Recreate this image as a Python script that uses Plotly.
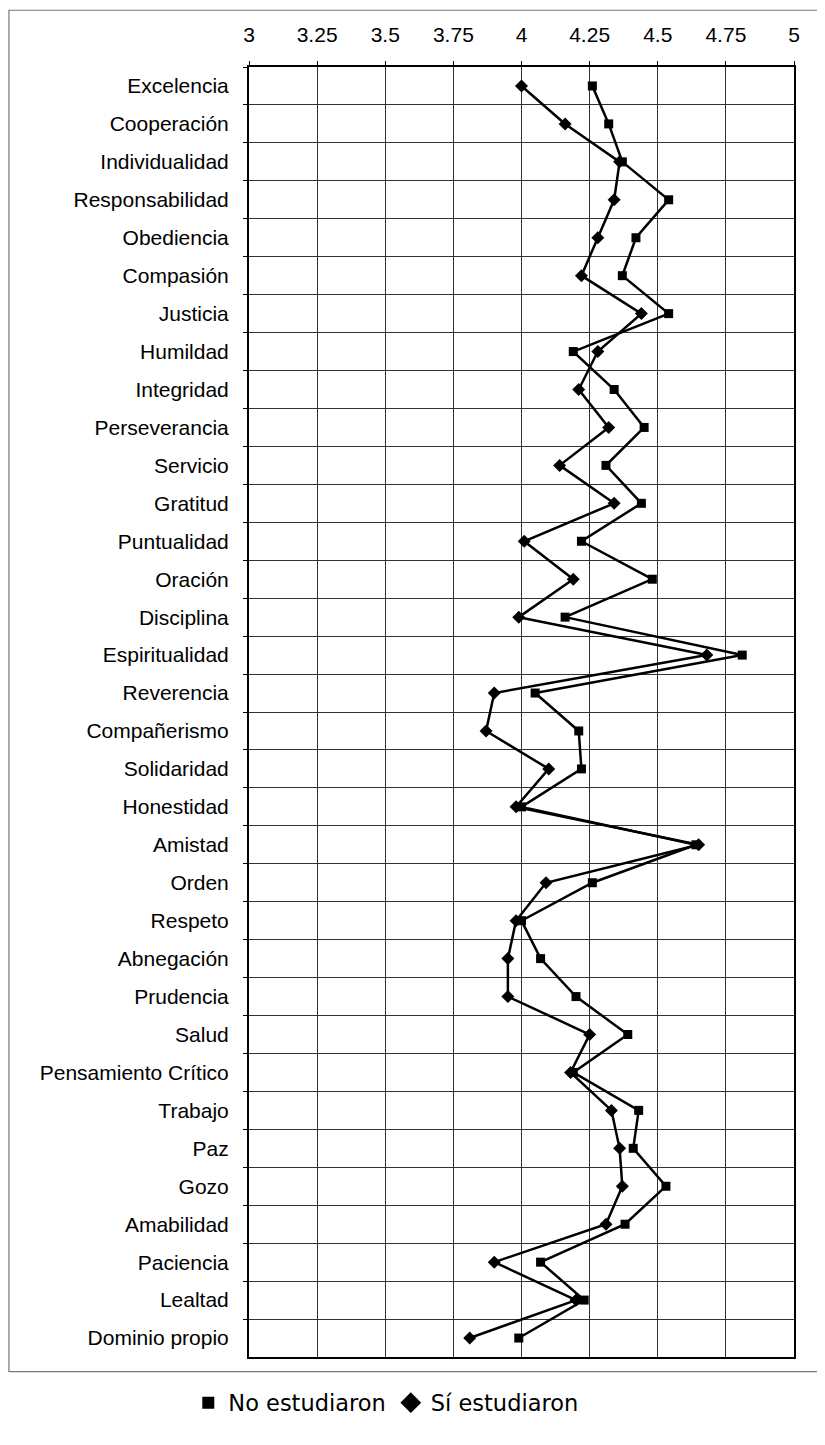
import plotly.graph_objects as go

categories = [
    "Excelencia", "Cooperación", "Individualidad", "Responsabilidad", "Obediencia",
    "Compasión", "Justicia", "Humildad", "Integridad", "Perseverancia",
    "Servicio", "Gratitud", "Puntualidad", "Oración", "Disciplina",
    "Espiritualidad", "Reverencia", "Compañerismo", "Solidaridad", "Honestidad",
    "Amistad", "Orden", "Respeto", "Abnegación", "Prudencia",
    "Salud", "Pensamiento Crítico", "Trabajo", "Paz", "Gozo",
    "Amabilidad", "Paciencia", "Lealtad", "Dominio propio",
]

no_estudiaron = [
    4.26, 4.32, 4.37, 4.54, 4.42,
    4.37, 4.54, 4.19, 4.34, 4.45,
    4.31, 4.44, 4.22, 4.48, 4.16,
    4.81, 4.05, 4.21, 4.22, 4.00,
    4.64, 4.26, 4.00, 4.07, 4.20,
    4.39, 4.19, 4.43, 4.41, 4.53,
    4.38, 4.07, 4.23, 3.99,
]

si_estudiaron = [
    4.00, 4.16, 4.36, 4.34, 4.28,
    4.22, 4.44, 4.28, 4.21, 4.32,
    4.14, 4.34, 4.01, 4.19, 3.99,
    4.68, 3.90, 3.87, 4.10, 3.98,
    4.65, 4.09, 3.98, 3.95, 3.95,
    4.25, 4.18, 4.33, 4.36, 4.37,
    4.31, 3.90, 4.20, 3.81,
]

x_ticks = [3, 3.25, 3.5, 3.75, 4, 4.25, 4.5, 4.75, 5]
series_names = ["No estudiaron", "Sí estudiaron"]

FONT = "Liberation Sans, Arial, sans-serif"

fig = go.Figure()

fig.add_trace(go.Scatter(
    x=no_estudiaron, y=categories, mode="lines+markers", name=series_names[0],
    line=dict(color="black", width=2.5),
    marker=dict(symbol="square", size=9, color="black"),
    showlegend=False,
))
fig.add_trace(go.Scatter(
    x=si_estudiaron, y=categories, mode="lines+markers", name=series_names[1],
    line=dict(color="black", width=2.5),
    marker=dict(symbol="diamond", size=10, color="black"),
    showlegend=False,
))
# legend entries (markers only, as in the original)
fig.add_trace(go.Scatter(
    x=[None], y=[categories[0]], mode="markers", name=series_names[0],
    marker=dict(symbol="square", size=12, color="black"),
))
fig.add_trace(go.Scatter(
    x=[None], y=[categories[0]], mode="markers", name=series_names[1],
    marker=dict(symbol="diamond", size=22, color="black"),
))

# outer frame
fig.add_shape(type="rect", xref="paper", yref="paper",
              x0=-0.4405, x1=1.3, y0=-0.0114, y1=1.0440,
              line=dict(color="#777", width=1.2), layer="below")

n = len(categories)
fig.update_layout(
    width=809, height=1429,
    margin=dict(l=241, r=23, t=59, b=54),
    paper_bgcolor="white", plot_bgcolor="white",
    font=dict(family=FONT, size=21, color="black"),
    showlegend=True,
    legend=dict(
        orientation="h", x=0.251, xanchor="center", y=-0.0357, yanchor="middle",
        font=dict(family="DejaVu Sans, Verdana, sans-serif", size=22.5, color="black"),
        itemsizing="trace", itemwidth=30, bgcolor="rgba(0,0,0,0)",
    ),
)

fig.update_xaxes(
    side="top", range=[3, 5], tickvals=x_ticks,
    ticktext=[f"{v:g}" for v in x_ticks],
    showgrid=True, gridcolor="#333", gridwidth=1,
    ticks="outside", ticklen=4, tickcolor="black",
    showline=True, linecolor="black", linewidth=2, mirror=True,
    zeroline=False, ticklabelstandoff=11, automargin=False,
    tickfont=dict(family=FONT, size=21, color="black"),
)
fig.update_yaxes(
    type="category", categoryorder="array", categoryarray=categories,
    range=[n - 0.5, -0.5], tickson="boundaries",
    showgrid=True, gridcolor="#333", gridwidth=1,
    ticks="outside", ticklen=4, tickcolor="black",
    showline=True, linecolor="black", linewidth=2, mirror=True,
    zeroline=False, ticklabelstandoff=14, automargin=False,
    tickfont=dict(family=FONT, size=21, color="black"),
)

fig.write_html("out.html")
